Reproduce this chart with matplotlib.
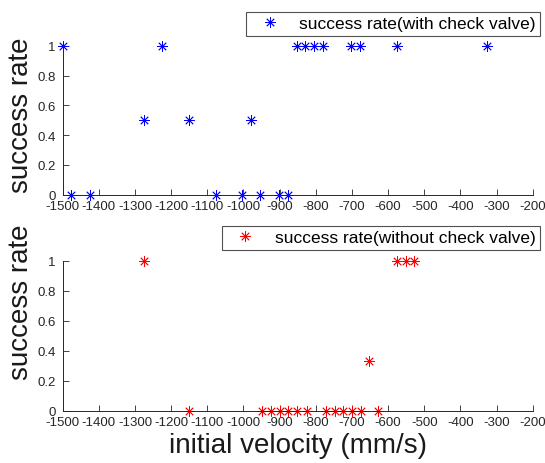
import matplotlib
matplotlib.use('Agg')
from matplotlib import pyplot as plt

plt.rcParams['font.family'] = ['Liberation Sans', 'DejaVu Sans']
plt.rcParams['axes.unicode_minus'] = False

# success rate vs initial velocity, with check valve
v_with = [-1500, -1476, -1425, -1276, -1226, -1151, -1077, -1004, -978, -953,
          -902, -876, -853, -829, -805, -781, -702, -678, -576, -325]
rate_with = [1, 0, 0, 0.5, 1, 0.5, 0, 0, 0.5, 0,
             0, 0, 1, 1, 1, 1, 1, 1, 1, 1]

# without check valve
v_without = [-1274, -1150, -948, -924, -900, -876, -852, -823, -772, -748,
             -724, -700, -675, -652, -627, -576, -551, -527]
rate_without = [1, 0, 0, 0, 0, 0, 0, 0, 0, 0,
                0, 0, 0, 0.333, 0, 1, 1, 1]

x_ticks = list(range(-1500, -199, 100))
y_ticks = [0, 0.2, 0.4, 0.6, 0.8, 1]

asterisk = (8, 2, 0)
axis_color = '#262626'

fig = plt.figure(figsize=(5.45, 4.64), dpi=100)
ax1 = fig.add_axes([0.115, 0.5782, 0.8624, 0.3211])
ax2 = fig.add_axes([0.115, 0.1127, 0.8624, 0.3233])

panels = [
    (ax1, v_with, rate_with, 'b', 'success rate(with check valve)', 0.972, 0.54),
    (ax2, v_without, rate_without, 'r', 'success rate(without check valve)', 0.511, 0.73),
]
for ax, v, r, c, lab, leg_top, ylab_y in panels:
    ax.plot(v, r, linestyle='none', marker=asterisk, markersize=7.5,
            markeredgewidth=0.6, color=c, clip_on=False, label=lab)
    ax.set_xlim(-1500, -200)
    ax.set_ylim(0, 1)
    ax.set_xticks(x_ticks)
    ax.set_yticks(y_ticks)
    ax.set_yticklabels(['0', '0.2', '0.4', '0.6', '0.8', '1'])
    ax.tick_params(direction='in', length=4, width=0.6, labelsize=9.5,
                   colors=axis_color)
    ax.tick_params(axis='x', pad=4)
    ax.tick_params(axis='y', pad=5)
    for side in ['top', 'right']:
        ax.spines[side].set_visible(False)
    for side in ['left', 'bottom']:
        ax.spines[side].set_color(axis_color)
        ax.spines[side].set_linewidth(0.7)
    ax.set_ylabel('success rate', fontsize=20, color='#1a1a1a')
    ax.yaxis.set_label_coords(-0.06, ylab_y)
    leg = ax.legend(loc='upper right', bbox_to_anchor=(0.991, leg_top),
                    bbox_transform=fig.transFigure, fontsize=12.5,
                    fancybox=False, frameon=True, borderpad=0.25,
                    handlelength=2.2, handletextpad=0.6, borderaxespad=0)
    leg.get_frame().set_edgecolor(axis_color)
    leg.get_frame().set_linewidth(0.8)

ax2.set_xlabel('initial velocity (mm/s)', fontsize=20, color='#1a1a1a', labelpad=3)

fig.savefig('out.png', dpi=100)
